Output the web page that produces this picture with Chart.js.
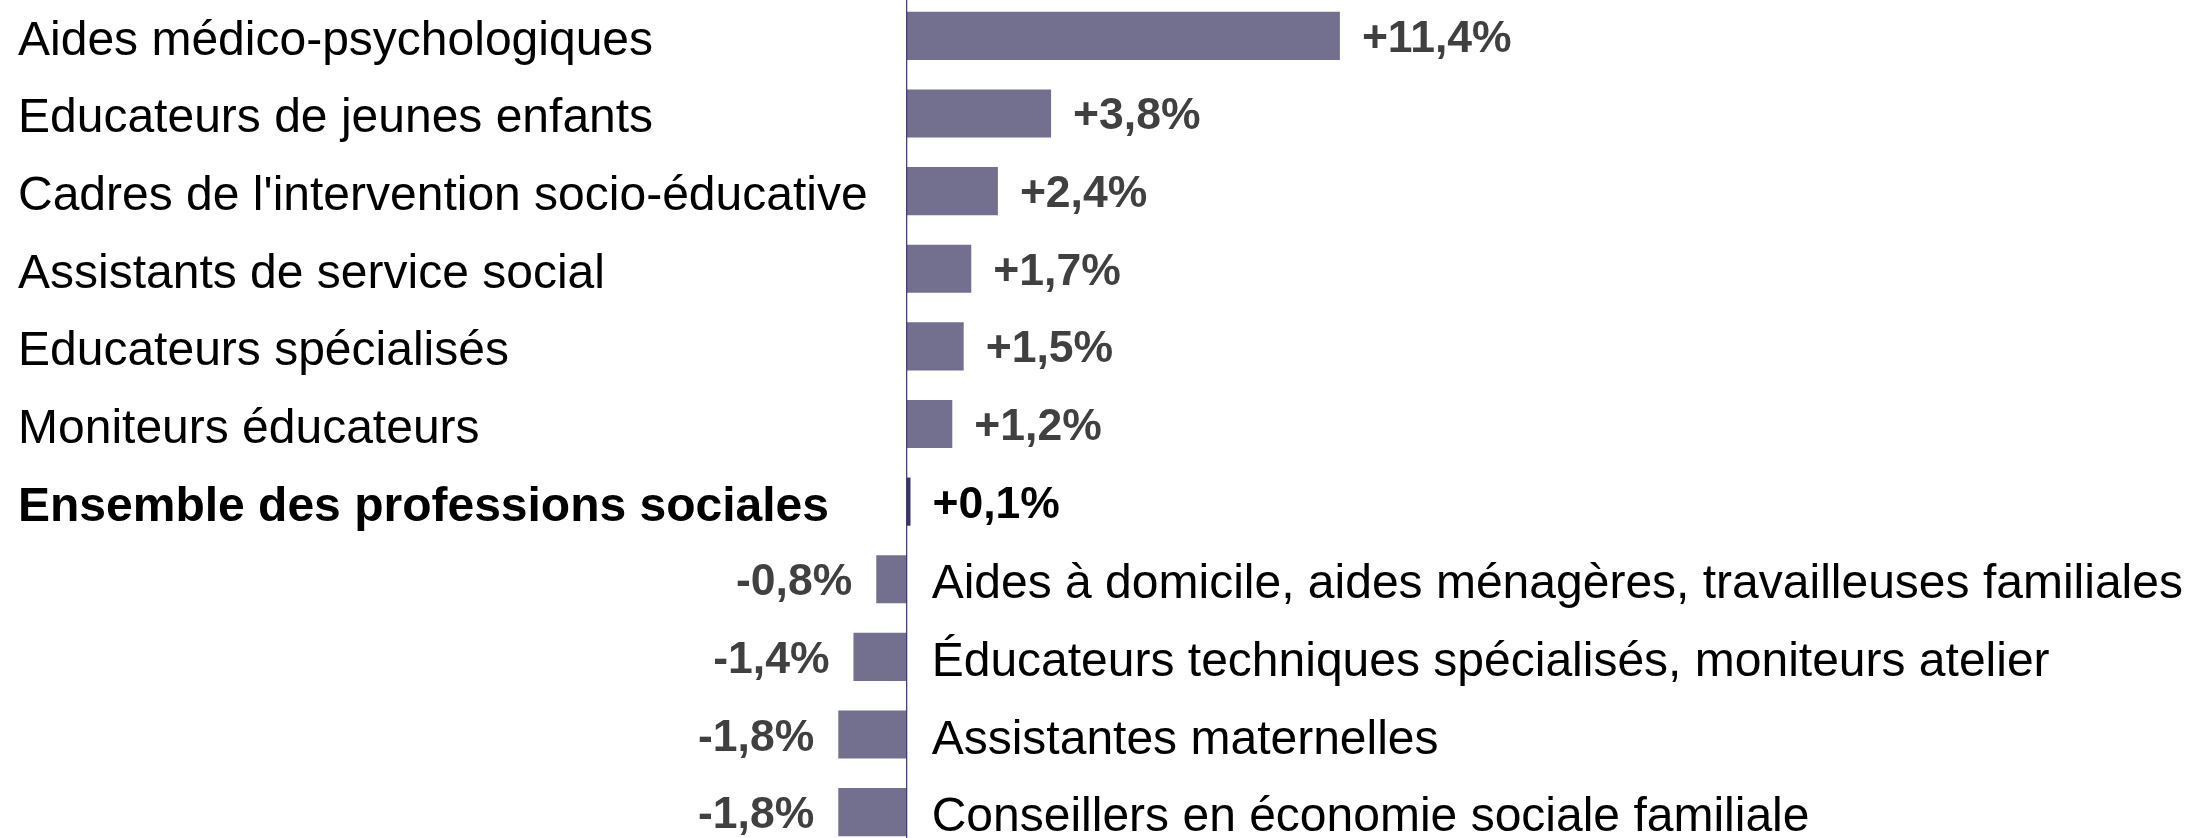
<!DOCTYPE html>
<html lang="fr">
<head>
<meta charset="utf-8">
<title>Professions sociales</title>
<script src="https://cdn.jsdelivr.net/npm/chart.js@4/dist/chart.umd.min.js"></script>
<style>
  html, body {
    margin: 0;
    padding: 0;
    background: #ffffff;
    overflow: hidden;
  }
  #wrap {
    position: absolute;
    left: 0;
    top: -3px;
    width: 2185px;
    height: 854px;
  }
</style>
</head>
<body>
<div id="wrap"><canvas id="chart"></canvas></div>
<script>
const categories = [
  "Aides médico-psychologiques",
  "Educateurs de jeunes enfants",
  "Cadres de l'intervention socio-éducative",
  "Assistants de service social",
  "Educateurs spécialisés",
  "Moniteurs éducateurs",
  "Ensemble des professions sociales",
  "Aides à domicile, aides ménagères, travailleuses familiales",
  "Éducateurs techniques spécialisés, moniteurs atelier",
  "Assistantes maternelles",
  "Conseillers en économie sociale familiale"
];

const values = [11.4, 3.8, 2.4, 1.7, 1.5, 1.2, 0.1, -0.8, -1.4, -1.8, -1.8];

const valueLabels = ["+11,4%", "+3,8%", "+2,4%", "+1,7%", "+1,5%", "+1,2%",
  "+0,1%", "-0,8%", "-1,4%", "-1,8%", "-1,8%"];

// row drawn in bold / darker (total)
const totalIndex = 6;

const barColor = "#73708f";
const totalColor = "#3a3468";
const fontFamily = "'Liberation Sans', Arial, sans-serif";

const labelsPlugin = {
  id: "labels",
  afterDatasetsDraw(chart) {
    const ctx = chart.ctx;
    const meta = chart.getDatasetMeta(0);
    const zeroX = chart.scales.x.getPixelForValue(0);

    // zero axis line
    ctx.save();
    ctx.strokeStyle = "#38326b";
    ctx.lineWidth = 1.2;
    ctx.beginPath();
    ctx.moveTo(zeroX, 0);
    ctx.lineTo(zeroX, chart.height);
    ctx.stroke();

    ctx.textBaseline = "alphabetic";

    meta.data.forEach((bar, i) => {
      const isTotal = i === totalIndex;
      const y = bar.y;

      // category label
      ctx.fillStyle = "#000000";
      ctx.font = (isTotal ? "bold " : "") + "48px " + fontFamily;
      ctx.textAlign = "left";
      if (values[i] >= 0) {
        ctx.fillText(categories[i], 18, y + 19);
      } else {
        ctx.fillText(categories[i], zeroX + 25, y + 19);
      }

      // value label
      ctx.fillStyle = isTotal ? "#000000" : "#404040";
      ctx.font = "bold 44.5px " + fontFamily;
      if (values[i] >= 0) {
        ctx.textAlign = "left";
        ctx.fillText(valueLabels[i], bar.x + 22, y + 16);
      } else {
        ctx.textAlign = "right";
        ctx.fillText(valueLabels[i], bar.x - 24, y + 16);
      }
    });

    ctx.restore();
  }
};

new Chart(document.getElementById("chart"), {
  type: "bar",
  data: {
    labels: categories,
    datasets: [{
      data: values,
      backgroundColor: values.map((v, i) => i === totalIndex ? totalColor : barColor),
      borderWidth: 0,
      barPercentage: 0.62,
      categoryPercentage: 1.0
    }]
  },
  options: {
    indexAxis: "y",
    responsive: true,
    maintainAspectRatio: false,
    animation: false,
    layout: {
      padding: 0
    },
    plugins: {
      legend: { display: false },
      tooltip: { enabled: false }
    },
    scales: {
      x: {
        display: false,
        min: -23.86,
        max: 33.64
      },
      y: {
        display: false
      }
    }
  },
  plugins: [labelsPlugin]
});
</script>
</body>
</html>
